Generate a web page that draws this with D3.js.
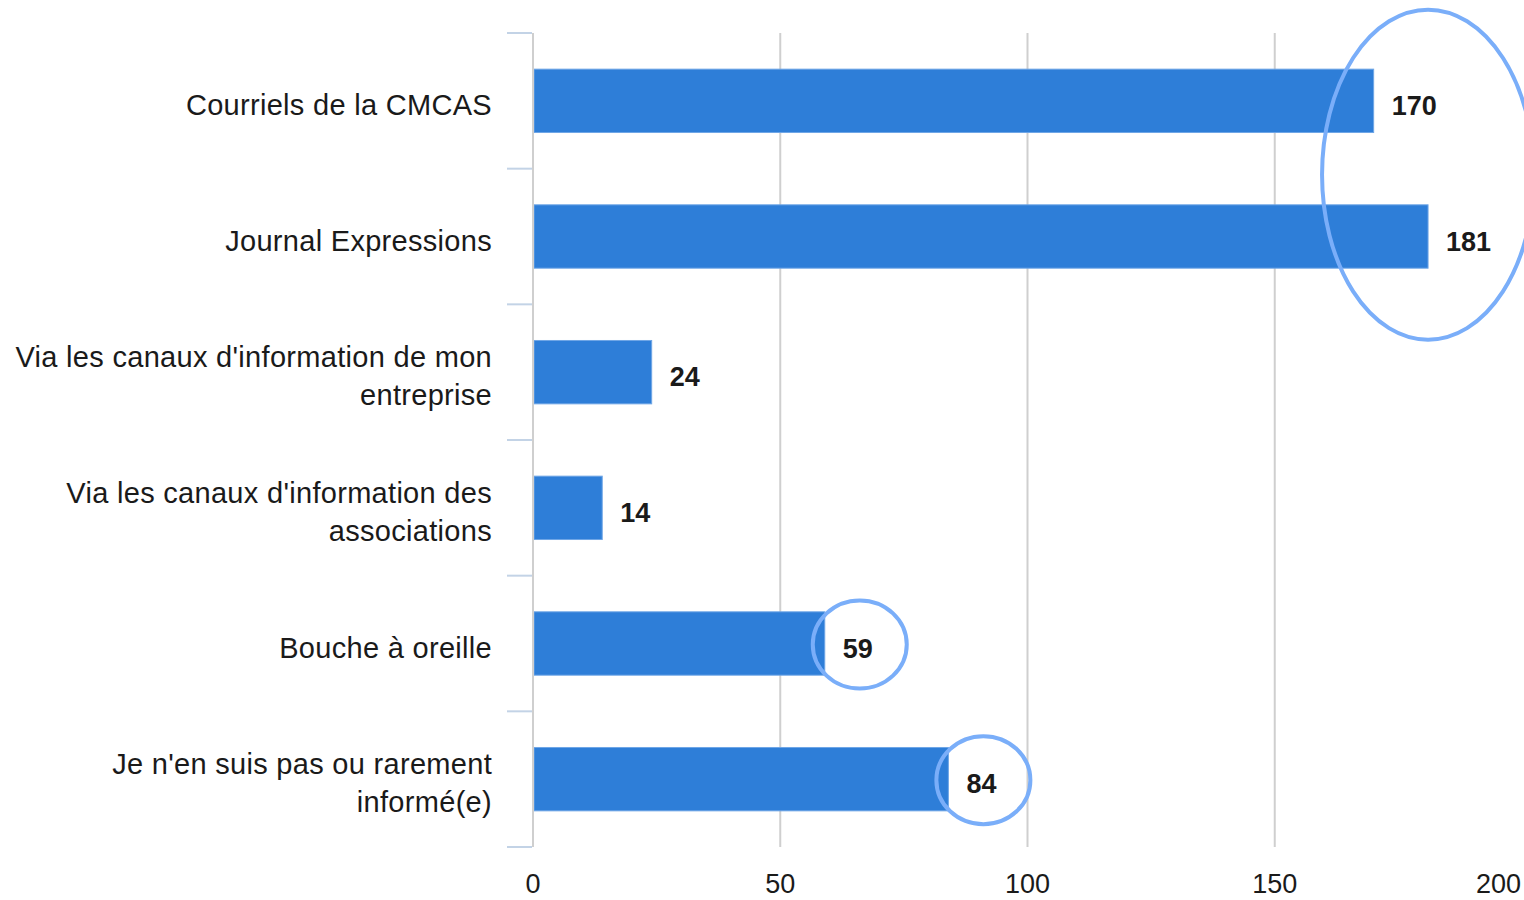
<!DOCTYPE html>
<html>
<head>
<meta charset="utf-8">
<script src="https://cdn.jsdelivr.net/npm/d3@7"></script>
<style>
  html, body { margin: 0; padding: 0; background: #fff; }
  svg { display: block; }
  text { font-family: "Liberation Sans", Arial, sans-serif; fill: #1a1a1a; }
</style>
</head>
<body>
<svg id="chart" width="1524" height="900"></svg>
<script>
const categories = [
  ["Courriels de la CMCAS"],
  ["Journal Expressions"],
  ["Via les canaux d'information de mon", "entreprise"],
  ["Via les canaux d'information des", "associations"],
  ["Bouche à oreille"],
  ["Je n'en suis pas ou rarement", "informé(e)"]
];
const values = [170, 181, 24, 14, 59, 84];
const xTicks = [0, 50, 100, 150, 200];
const highlighted = [[0, 1], [4], [5]]; // groups of bar indices circled

const svg = d3.select("#chart");
const mLeft = 533, mRight = 1522, mTop = 33, mBottom = 847;
const x = d3.scaleLinear().domain([0, 200]).range([mLeft, mRight]);
const y = d3.scaleBand().domain(d3.range(values.length)).range([mTop, mBottom]).padding(0);
const barH = y.bandwidth() * 0.467;
const blue = "#2e7ed8";
const ring = "#7aaef9";

// gridlines
svg.append("g").selectAll("line").data(xTicks.filter(t => t > 0 && t < 200)).join("line")
  .attr("x1", d => x(d)).attr("x2", d => x(d))
  .attr("y1", mTop).attr("y2", mBottom)
  .attr("stroke", "#cfcfcf").attr("stroke-width", 2);

// bars
svg.append("g").selectAll("rect").data(values).join("rect")
  .attr("x", x(0) + 1)
  .attr("y", (d, i) => y(i) + (y.bandwidth() - barH) / 2)
  .attr("width", d => x(d) - x(0) - 1)
  .attr("height", barH)
  .attr("fill", blue)
  .attr("stroke", "#6fa6e6").attr("stroke-width", 1);

// y axis line
svg.append("line").attr("x1", mLeft).attr("x2", mLeft).attr("y1", mTop).attr("y2", mBottom)
  .attr("stroke", "#cfcfcf").attr("stroke-width", 2);

// category separator ticks
const seps = d3.range(values.length + 1).map(i => i < values.length ? y(i) : mBottom);
svg.append("g").selectAll("line").data(seps).join("line")
  .attr("x1", 507).attr("x2", mLeft - 1)
  .attr("y1", d => d).attr("y2", d => d)
  .attr("stroke", "#c3d3e6").attr("stroke-width", 2);

// category labels
const lineH = 38;
const lab = svg.append("g").selectAll("text").data(categories).join("text")
  .attr("text-anchor", "end")
  .attr("font-size", 29)
  .attr("letter-spacing", 0.3)
  .attr("y", (d, i) => y(i) + y.bandwidth() / 2 - (d.length - 1) * lineH / 2 + 14);
lab.selectAll("tspan").data(d => d).join("tspan")
  .attr("x", 492)
  .attr("dy", (d, j) => j === 0 ? 0 : lineH)
  .text(d => d);

// value labels
svg.append("g").selectAll("text").data(values).join("text")
  .attr("x", d => x(d) + 18)
  .attr("y", (d, i) => y(i) + y.bandwidth() / 2 + 14)
  .attr("font-size", 27).attr("font-weight", "bold")
  .text(d => d);

// x tick labels
svg.append("g").selectAll("text").data(xTicks).join("text")
  .attr("x", d => d === 200 ? x(d) - 1 : x(d))
  .attr("y", 893)
  .attr("text-anchor", d => d === 200 ? "end" : "middle")
  .attr("font-size", 27)
  .text(d => d);

// highlight rings
const ann = svg.append("g").attr("fill", "none").attr("stroke", ring).attr("stroke-width", 4);
ann.append("ellipse")
  .attr("cx", x(d3.max(highlighted[0].map(i => values[i]))))
  .attr("cy", (y(0) + y(1) + y.bandwidth()) / 2 + 6)
  .attr("rx", 106).attr("ry", 165);
highlighted.slice(1).forEach(g => {
  const i = g[0];
  ann.append("ellipse")
    .attr("cx", x(values[i]) + 35)
    .attr("cy", y(i) + y.bandwidth() / 2 + 1)
    .attr("rx", 47).attr("ry", 44);
});
</script>
</body>
</html>
